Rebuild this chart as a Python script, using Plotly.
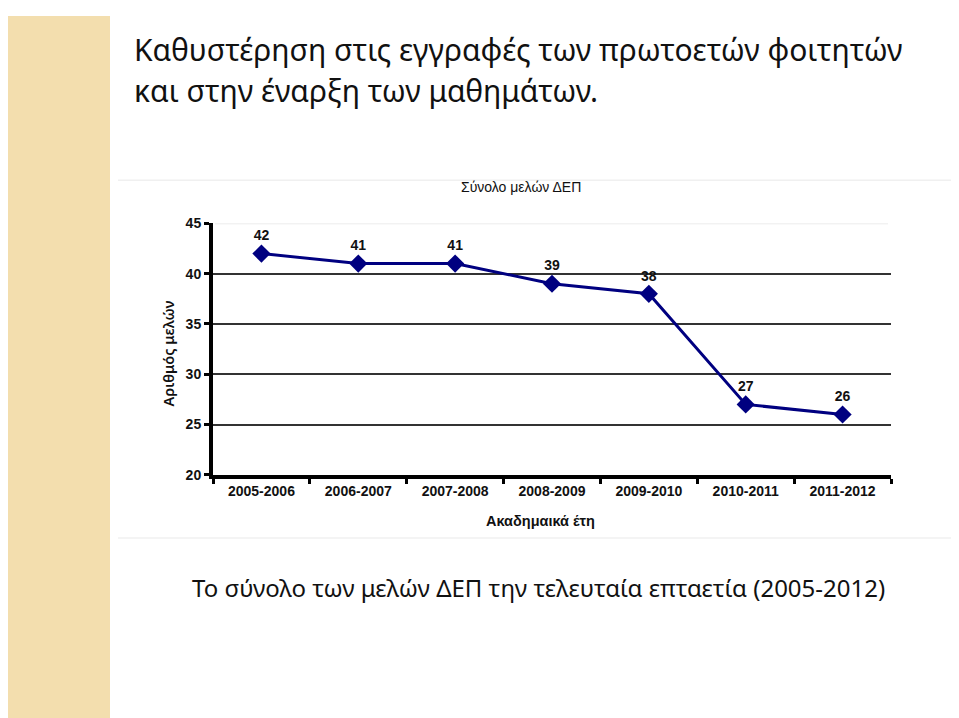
import plotly.graph_objects as go

years = ["2005-2006", "2006-2007", "2007-2008", "2008-2009",
         "2009-2010", "2010-2011", "2011-2012"]
members = [42, 41, 41, 39, 38, 27, 26]
y_ticks = [20, 25, 30, 35, 40, 45]

# page placement: figure appears shifted by 8px horizontally,
# and vertically starts ~16px down with a slight squeeze
X_OFF = 8
Y_OFF, Y_SCALE = 16, 0.976
W, H = 959 - X_OFF, 720


def px(x):
    return (x - X_OFF) / W


def py(y):
    return 1 - ((y - Y_OFF) / Y_SCALE) / H


fig = go.Figure()

fig.add_trace(go.Scatter(
    x=years, y=members,
    mode="lines+markers+text",
    text=[str(v) for v in members],
    textposition="top center",
    textfont=dict(family="Liberation Sans", size=14, color="#111111", weight="bold"),
    line=dict(color="#000080", width=3),
    marker=dict(symbol="diamond", size=14, color="#000080"),
    cliponaxis=False,
    showlegend=False,
))

fig.update_layout(
    width=W, height=H,
    margin=dict(l=0, r=0, t=0, b=0),
    paper_bgcolor="white",
    plot_bgcolor="white",
    xaxis=dict(
        type="category",
        domain=[px(213), px(891)],
        range=[-0.5, 6.5],
        showline=True, linecolor="black", linewidth=4,
        ticks="outside", tickson="boundaries", ticklen=5, tickwidth=3, tickcolor="black",
        showgrid=False,
        tickfont=dict(family="Liberation Sans", size=14, color="#111111", weight="bold"),
        fixedrange=True,
    ),
    yaxis=dict(
        domain=[py(474), py(223)],
        range=[20, 45],
        tickvals=y_ticks,
        showline=True, linecolor="black", linewidth=4,
        ticks="outside", ticklen=5, tickwidth=3, tickcolor="black",
        showgrid=True, gridcolor="#333333", gridwidth=1.5,
        tickfont=dict(family="Liberation Sans", size=14, color="#111111", weight="bold"),
        fixedrange=True,
    ),
)

# light top gridline at 45
fig.add_shape(type="line", xref="paper", yref="y", x0=px(215), x1=px(888), y0=45, y1=45,
              line=dict(color="#e6e6e6", width=1.5))

# left decorative strip
fig.add_shape(type="rect", xref="paper", yref="paper", x0=0, x1=px(110), y0=0, y1=1,
              fillcolor="#f3deae", line=dict(width=0), layer="below")

# faint border lines of the chart picture
for yy in (180, 537):
    fig.add_shape(type="line", xref="paper", yref="paper", x0=px(118), x1=1, y0=py(yy), y1=py(yy),
                  line=dict(color="#f0f0f0", width=1.5))

fig.add_annotation(x=px(132), y=py(49), xref="paper", yref="paper", xanchor="left", yanchor="middle",
                   text="Καθυστέρηση στις εγγραφές των πρωτοετών φοιτητών", showarrow=False,
                   font=dict(family="Noto Sans", size=30, color="#111111"))
fig.add_annotation(x=px(132), y=py(90), xref="paper", yref="paper", xanchor="left", yanchor="middle",
                   text="και στην έναρξη των μαθημάτων.", showarrow=False,
                   font=dict(family="Noto Sans", size=30, color="#111111"))

fig.add_annotation(x=px(521), y=py(187), xref="paper", yref="paper", xanchor="center", yanchor="middle",
                   text="Σύνολο μελών ΔΕΠ", showarrow=False,
                   font=dict(family="Liberation Sans", size=14, color="#111111"))

fig.add_annotation(x=px(168), y=py(353), xref="paper", yref="paper", xanchor="center", yanchor="middle",
                   text="Αριθμός μελών", textangle=-90, showarrow=False,
                   font=dict(family="Noto Sans", size=14.5, color="#111111", weight=600))

fig.add_annotation(x=px(540), y=py(520), xref="paper", yref="paper", xanchor="center", yanchor="middle",
                   text="<b>Ακαδημαικά έτη</b>", showarrow=False,
                   font=dict(family="Liberation Sans", size=14.5, color="#111111"))

fig.add_annotation(x=px(538), y=py(586), xref="paper", yref="paper", xanchor="center", yanchor="middle",
                   text="Το σύνολο των μελών ΔΕΠ την τελευταία επταετία (2005-2012)", showarrow=False,
                   font=dict(family="Noto Sans", size=24, color="#111111"))

fig.write_html("out.html")
